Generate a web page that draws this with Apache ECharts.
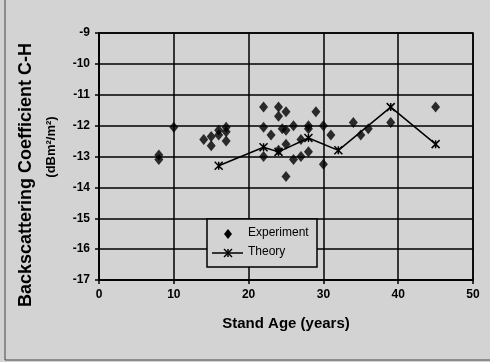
<!DOCTYPE html>
<html>
<head>
<meta charset="utf-8">
<script src="https://cdn.jsdelivr.net/npm/echarts@6/dist/echarts.min.js"></script>
<style>
  html, body { margin: 0; padding: 0; background: #d3d3d3; }
  #chart { width: 490px; height: 362px; }
</style>
</head>
<body>
<div id="chart"></div>
<script>
// Stand age (years) and measured C-H backscattering coefficient (dBm²/m²)
const experimentAge = [8, 8, 10, 14, 15, 15, 16, 16, 17, 17, 17,
  22, 22, 22, 23, 24, 24, 24.5, 24, 25, 25, 25, 25, 26, 26, 27, 27,
  28, 28, 28, 29, 30, 30, 31, 34, 35, 36, 39, 45];
const experimentCoef = [-12.95, -13.1, -12.05, -12.45, -12.35, -12.65, -12.15, -12.3, -12.05, -12.2, -12.5,
  -11.4, -12.05, -13.0, -12.3, -11.4, -11.7, -12.1, -12.8, -11.55, -12.15, -12.6, -13.65, -12.0, -13.1, -12.45, -13.0,
  -12.0, -12.1, -12.85, -11.55, -12.0, -13.25, -12.3, -11.9, -12.3, -12.1, -11.9, -11.4];

// Model prediction
const theoryAge = [16, 22, 24, 28, 32, 39, 45];
const theoryCoef = [-13.3, -12.7, -12.85, -12.4, -12.8, -11.4, -12.6];

const xTicks = { min: 0, max: 50, interval: 10 };
const yTicks = { min: -17, max: -9, interval: 1 };
const legendNames = ['Experiment', 'Theory'];

const bg = '#d3d3d3';
const font = 'Liberation Sans, Arial, sans-serif';
const asterisk = 'path://M0,0L10,10M10,0L0,10M5,0L5,10';

// Boxed legend in the lower middle of the plot, drawn above the grid lines
const lg = { x: 207, y: 219, w: 110, h: 48 };
const legendParts = [
  { type: 'rect', shape: { x: lg.x, y: lg.y, width: lg.w, height: lg.h },
    style: { fill: bg, stroke: '#000', lineWidth: 1.5 } },
  { type: 'polygon', shape: { points: [[lg.x + 21, lg.y + 10], [lg.x + 25, lg.y + 15], [lg.x + 21, lg.y + 20], [lg.x + 17, lg.y + 15]] },
    style: { fill: '#000' } },
  { type: 'text', x: lg.x + 41, y: lg.y + 14,
    style: { text: legendNames[0], fill: '#000', font: '12px ' + font, verticalAlign: 'middle' } },
  { type: 'line', shape: { x1: lg.x + 5, y1: lg.y + 34, x2: lg.x + 36, y2: lg.y + 34 },
    style: { stroke: '#000', lineWidth: 1.5 } },
  { type: 'line', shape: { x1: lg.x + 17, y1: lg.y + 30, x2: lg.x + 25, y2: lg.y + 38 },
    style: { stroke: '#000', lineWidth: 1.5 } },
  { type: 'line', shape: { x1: lg.x + 25, y1: lg.y + 30, x2: lg.x + 17, y2: lg.y + 38 },
    style: { stroke: '#000', lineWidth: 1.5 } },
  { type: 'line', shape: { x1: lg.x + 21, y1: lg.y + 30, x2: lg.x + 21, y2: lg.y + 38 },
    style: { stroke: '#000', lineWidth: 1.5 } },
  { type: 'text', x: lg.x + 41, y: lg.y + 33,
    style: { text: legendNames[1], fill: '#000', font: '12px ' + font, verticalAlign: 'middle' } }
].map((el, i) => Object.assign(el, { z: 100 + i, zlevel: 1 }));

const chart = echarts.init(document.getElementById('chart'));
chart.setOption({
  backgroundColor: bg,
  animation: false,
  grid: {
    left: 99, right: 17, top: 33, bottom: 82,
    show: true, borderColor: '#000', borderWidth: 1.5, backgroundColor: 'transparent'
  },
  xAxis: {
    type: 'value',
    min: xTicks.min, max: xTicks.max, interval: xTicks.interval,
    axisLine: { show: true, lineStyle: { color: '#000', width: 1.5 } },
    axisTick: { show: true, length: 4, lineStyle: { color: '#000', width: 1.5 } },
    splitLine: { show: true, lineStyle: { color: '#000', width: 1.5 } },
    axisLabel: { color: '#000', fontFamily: font, fontWeight: 'bold', fontSize: 12, margin: 9 }
  },
  yAxis: {
    type: 'value',
    min: yTicks.min, max: yTicks.max, interval: yTicks.interval,
    axisLine: { show: true, lineStyle: { color: '#000', width: 1.5 } },
    axisTick: { show: true, length: 4, lineStyle: { color: '#000', width: 1.5 } },
    splitLine: { show: true, lineStyle: { color: '#000', width: 1.5 } },
    axisLabel: { color: '#000', fontFamily: font, fontWeight: 'bold', fontSize: 12, margin: 9 }
  },
  series: [
    {
      name: legendNames[0],
      type: 'scatter',
      symbol: 'diamond',
      symbolSize: [9, 11],
      itemStyle: { color: '#000' },
      data: experimentAge.map((a, i) => [a, experimentCoef[i]]),
      z: 3
    },
    {
      name: legendNames[1],
      type: 'line',
      symbol: asterisk,
      symbolSize: 8,
      showSymbol: true,
      lineStyle: { color: '#000', width: 1.5 },
      itemStyle: { color: 'transparent', borderColor: '#000', borderWidth: 1.5 },
      data: theoryAge.map((a, i) => [a, theoryCoef[i]]),
      z: 4
    }
  ],
  graphic: legendParts.concat([
    {
      type: 'text', x: 26, y: 175, rotation: Math.PI / 2,
      style: {
        text: 'Backscattering Coefficient C-H', fill: '#000',
        font: 'bold 18px ' + font, align: 'center', verticalAlign: 'middle'
      }
    },
    {
      type: 'text', x: 51, y: 147, rotation: Math.PI / 2,
      style: {
        text: '(dBm²/m²)', fill: '#000',
        font: 'bold 13px ' + font, align: 'center', verticalAlign: 'middle'
      }
    },
    {
      type: 'text', x: 286, y: 324,
      style: {
        text: 'Stand Age (years)', fill: '#000',
        font: 'bold 15px ' + font, align: 'center', verticalAlign: 'middle'
      }
    },
    { type: 'line', shape: { x1: 5, y1: 0, x2: 5, y2: 360 }, style: { stroke: '#444', lineWidth: 1 } },
    { type: 'line', shape: { x1: 5, y1: 360, x2: 490, y2: 360 }, style: { stroke: '#444', lineWidth: 1 } }
  ])
});
</script>
</body>
</html>
